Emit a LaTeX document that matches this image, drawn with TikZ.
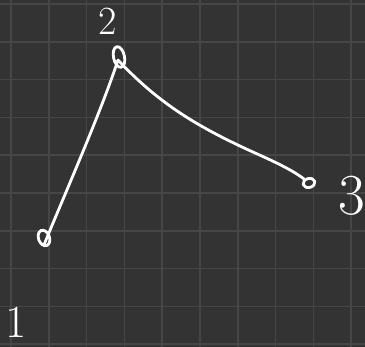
\documentclass[tikz,border=0pt]{standalone}
\begin{document}
\begin{tikzpicture}[x=1pt,y=-1pt,
  ink/.style={draw=white,line width=2.8pt,line cap=round,line join=round},
  lbl/.style={text=white,inner sep=0pt,anchor=center}]
\definecolor{bg}{RGB}{51,51,51}
\definecolor{gridc}{RGB}{70,70,70}
\fill[bg] (0,0) rectangle (365,347);
\useasboundingbox (0,0) rectangle (365,347);
\foreach \i in {0,...,9} {
  \draw[gridc,line width=1.6pt] ({11+37.8*\i},0) -- ({11+37.8*\i},347);
  \draw[gridc,line width=1.6pt] (0,{4+37.8*\i}) -- (365,{4+37.8*\i});
}
% vertex loops
\draw[ink,rotate around={20:(44,238)}] (44,238) ellipse [x radius=5.5pt, y radius=8pt];
\draw[ink,rotate around={12:(119,57)}] (119,57) ellipse [x radius=5.5pt, y radius=10.5pt];
\draw[ink,rotate around={15:(309,183)}] (309,183) ellipse [x radius=6pt, y radius=4.5pt];
\coordinate (v1) at (44,245);
\coordinate (v2) at (118,60);
\coordinate (v3) at (304,179);
% edges
\draw[ink] (v1) .. controls (60,205) and (100,115) .. (v2);
\draw[ink] (v2) .. controls (160,105) and (200,128) .. (255,153) .. controls (280,164) and (295,172) .. (v3);
% labels
\node[lbl,font=\fontsize{40}{40}\selectfont] (l2) at (108,21) {2};
\node[lbl,font=\fontsize{46}{46}\selectfont] (l1) at (16,322) {1};
\node[lbl,font=\fontsize{58}{58}\selectfont] (l3) at (352,196) {3};
\end{tikzpicture}
\end{document}
